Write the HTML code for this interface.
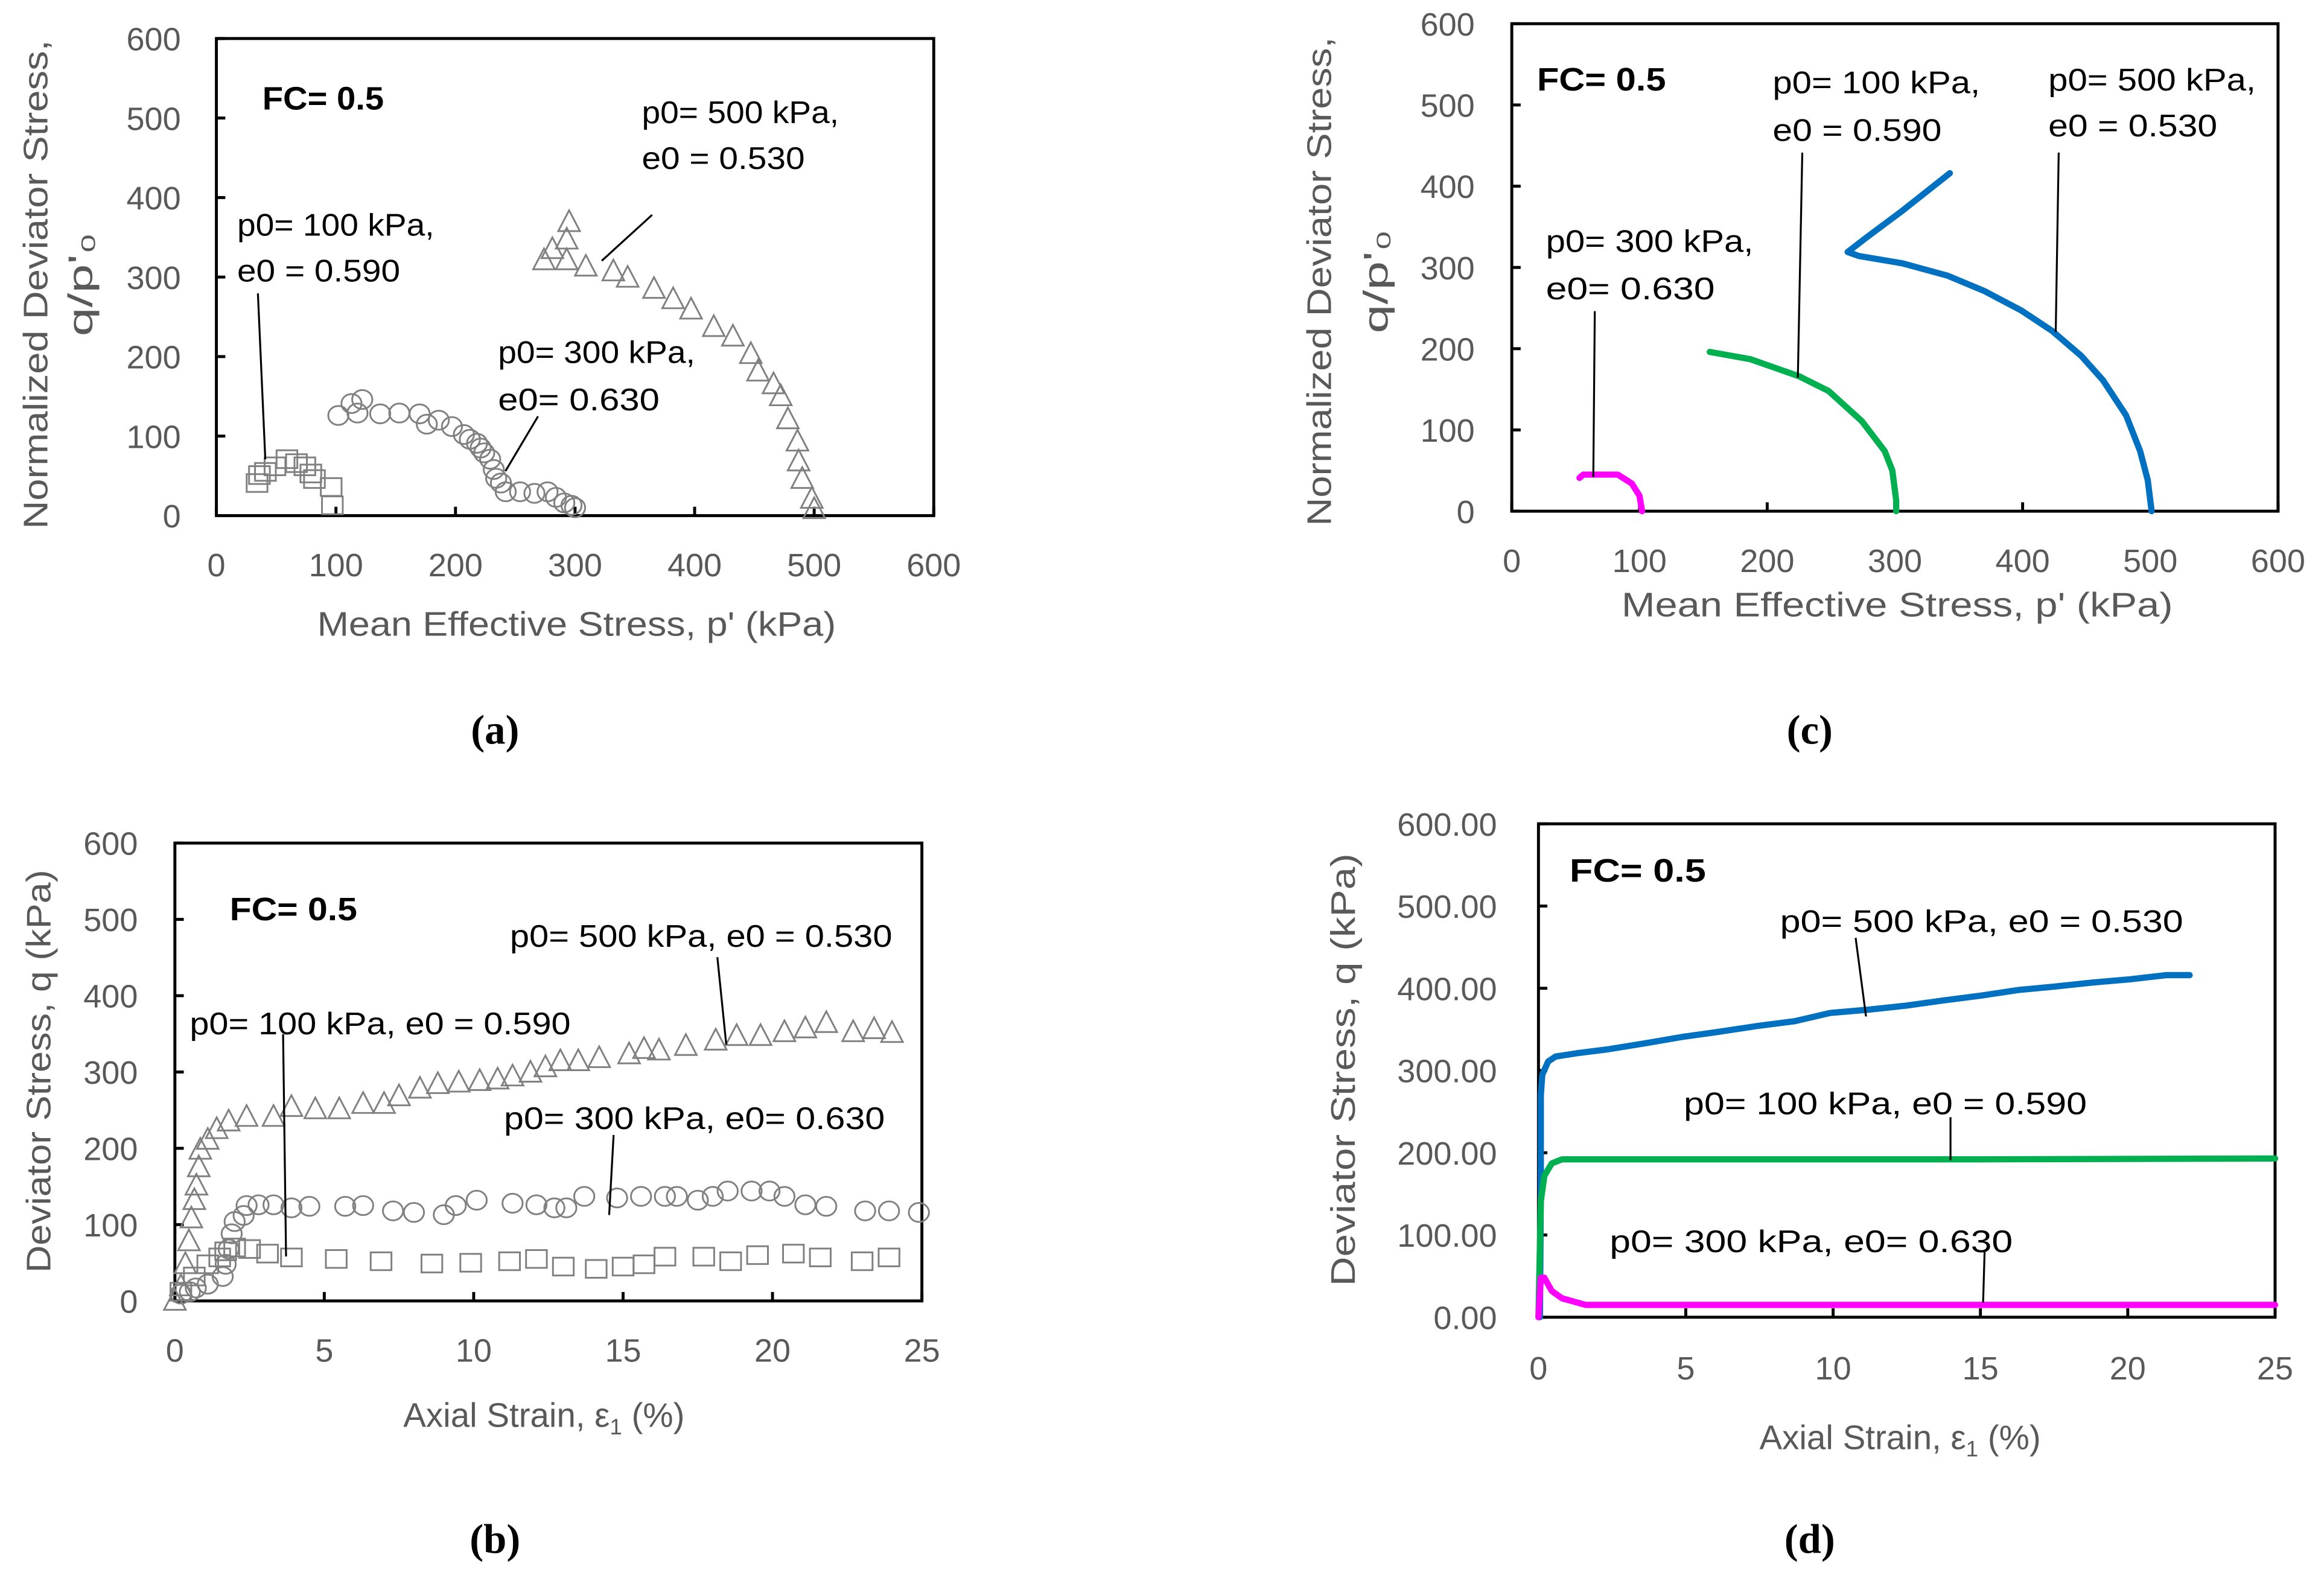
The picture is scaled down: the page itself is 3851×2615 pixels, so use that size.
<!DOCTYPE html>
<html><head><meta charset="utf-8">
<style>
html,body{margin:0;padding:0;background:#fff;}
svg{display:block;}
text{font-family:"Liberation Sans",sans-serif;}
.tick{fill:#595959;font-size:22px;}
.ttl{fill:#595959;font-size:23px;}
.ann{fill:#000;font-size:21px;}
.fc{fill:#000;font-size:22px;font-weight:bold;}
.cap{fill:#000;font-size:28px;font-weight:bold;font-family:"Liberation Serif",serif;}
</style></head>
<body>
<svg id="fig" width="3851" height="2615" viewBox="0 0 1568 1065" preserveAspectRatio="none" xmlns="http://www.w3.org/2000/svg"></svg>
<script>
// ---- Panel (a) data: p' (kPa), q/p'0 ----
const aTriP=[274,281,293,295,293,309,332,344,366,382,397,416,432,447,453,466,472,478,486,487,490,498,500];
const aTriQ=[321,335,347,369,321,313,307,299,285,272,259,237,225,203,181,165,150,121,93,68,46,21,8];
const aCirP=[102,113,118,122,137,153,170,176,186,197,207,212,218,221,224,229,232,234,238,242,254,266,277,284,291,297,300];
const aCirQ=[126,141,129,146,128,129,128,115,120,112,102,96,91,85,79,71,58,47,41,30,30,28,30,23,16,13,10];
const aSqP=[34,36,41,49,59,67,74,79,82,96,97];
const aSqQ=[41,51,55,62,71,66,62,53,46,36,13];
const aXTicks=[0,100,200,300,400,500,600];
const aYTicks=[0,100,200,300,400,500,600];
// ---- Panel (b) data: strain (%), q (kPa) ----
const bTriE=[0,0.2,0.35,0.47,0.55,0.65,0.72,0.8,0.85,1.1,1.4,1.8,2.4,3.3,3.9,4.7,5.5,6.3,7.0,7.5,8.2,8.8,9.5,10.2,10.8,11.3,11.9,12.4,12.9,13.5,14.2,15.2,15.7,16.2,17.1,18.1,18.8,19.6,20.4,21.1,21.8,22.7,23.4,24.0];
const bTriQ=[0,19,48,78,108,132,151,175,198,211,225,235,241,241,254,251,251,258,258,268,278,284,286,288,290,294,299,306,314,314,318,323,330,328,334,341,347,347,352,357,364,352,356,351];
const bCirE=[0.2,0.5,0.7,1.1,1.6,1.7,1.8,1.9,2.0,2.3,2.4,2.8,3.3,3.9,4.5,5.7,6.3,7.3,8.0,9.0,9.4,10.1,11.3,12.1,12.7,13.1,13.7,14.8,15.6,16.4,16.8,17.5,18.0,18.5,19.3,19.9,20.4,21.1,21.8,23.1,23.9,24.9];
const bCirQ=[9,12,17,22,32,48,68,88,104,112,125,126,126,122,124,124,125,118,116,113,125,132,128,126,122,122,137,135,137,137,137,132,137,144,144,144,137,126,124,118,118,116];
const bSqE=[0.2,0.65,1.1,1.5,1.7,2.0,2.5,3.1,3.9,5.4,6.9,8.6,9.9,11.2,12.1,13.0,14.1,15.0,15.7,16.4,17.7,18.6,19.5,20.7,21.6,23.0,23.9];
const bSqQ=[12,32,48,57,65,70,68,62,57,55,52,49,50,52,55,45,42,45,48,58,58,52,60,62,57,52,57];
const bXTicks=[0,5,10,15,20,25];
const bYTicks=[0,100,200,300,400,500,600];
// ---- Panel (c) data ----
const cGreenP=[155,187,225,248,274,292,298,301,301];
const cGreenQ=[196,187,166,148,111,74,50,13,0];
const cBlueP=[343,306,277,263,272,306,341,370,399,423,446,463,481,492,498,501];
const cBlueQ=[416,370,336,319,314,305,290,271,247,222,191,161,118,74,38,0];
const cMagP=[53,56,83,94,100,102];
const cMagQ=[41,45,45,34,19,0];
// ---- Panel (d) data ----
const dBlueE=[0.05,0.08,0.08,0.13,0.33,0.58,1.3,2.4,3.6,4.9,6.1,7.4,8.7,9.9,11.2,12.5,13.7,15.0,16.3,17.5,18.8,20.1,21.3,22.1];
const dBlueQ=[0,150,270,295,311,317,321,326,333,341,347,354,360,370,374,379,385,391,398,402,407,411,416,416];
const dGreenE=[0,0.08,0.2,0.45,0.8,4.9,15,25];
const dGreenQ=[0,141,172,187,192,192,192,193];
const dMagE=[0,0.08,0.2,0.45,0.8,1.3,1.6,25];
const dMagQ=[0,48,48,32,23,18,15,15];
const dYTicks=["0.00","100.00","200.00","300.00","400.00","500.00","600.00"];

const NS="http://www.w3.org/2000/svg";
const svg=document.getElementById('fig');
function mk(tag,attrs,parent){const e=document.createElementNS(NS,tag);for(const k in attrs)e.setAttribute(k,attrs[k]);(parent||svg).appendChild(e);return e;}
function txt(s,x,y,cls,anchor,parent){const t=mk('text',{x:x,y:y,class:cls,'text-anchor':anchor||'start'},parent);t.textContent=s;return t;}
function axis(x0,x1,y0,y1,xmin,xmax,ymin,ymax){return {x:v=>x0+(v-xmin)/(xmax-xmin)*(x1-x0),y:v=>y0-(v-ymin)/(ymax-ymin)*(y0-y1)};}

function frame(g,x0,x1,y0,y1,ax,xt,yt,ylabels,ylx,xly){
  const r=mk('rect',{x:x0,y:y1,width:x1-x0,height:y0-y1,fill:'none',stroke:'#000','stroke-width':2},g);
  
  
  yt.forEach((v,i)=>{
    const yy=ax.y(v);
    const l=mk('line',{x1:x0,x2:x0+6,y1:yy,y2:yy,stroke:'#000','stroke-width':2},g);
    
    
    const t=txt(ylabels?ylabels[i]:String(v),ylx,yy+8,'tick','end',g);
    
    
  });
  xt.forEach(v=>{
    const xx=ax.x(v);
    const l=mk('line',{x1:xx,x2:xx,y1:y0,y2:y0-6,stroke:'#000','stroke-width':2},g);
    
    
    const t=txt(String(v),xx,xly,'tick','middle',g);
    
    
  });
}
function tri(g,ax,X,Y){X.forEach((v,i)=>{const cx=ax.x(v),cy=ax.y(Y[i]);
  const p=mk('polygon',{points:`${cx-7.3},${cy+6} ${cx+7.3},${cy+6} ${cx},${cy-8}`,fill:'none',stroke:'#808080','stroke-width':1.2},g);
  
  });}
function cir(g,ax,X,Y){X.forEach((v,i)=>{
  const c=mk('ellipse',{cx:ax.x(v),cy:ax.y(Y[i]),rx:6.8,ry:6.4,fill:'none',stroke:'#808080','stroke-width':1.2},g);
  
  });}
function sq(g,ax,X,Y){X.forEach((v,i)=>{
  const r=mk('rect',{x:ax.x(v)-7,y:ax.y(Y[i])-6,width:14,height:12,fill:'none',stroke:'#808080','stroke-width':1.2},g);
  
  });}
function line(g,ax,X,Y,col,name){
  const p=mk('polyline',{points:X.map((v,i)=>ax.x(v)+','+ax.y(Y[i])).join(' '),fill:'none',stroke:col,'stroke-width':4.2,'stroke-linejoin':'round','stroke-linecap':'round'},g);
  
  }
function lead(g,x1,y1,x2,y2){const l=mk('line',{x1:x1,y1:y1,x2:x2,y2:y2,stroke:'#000','stroke-width':1.3},g);
  
  }
function ann(g,s,x,y,w,cls){const t=txt(s,x,y,cls||'ann','start',g);if(w){t.setAttribute('textLength',w);t.setAttribute('lengthAdjust','spacingAndGlyphs');}
  
  return t;}
function ytitle(g,lines,xs,cy,ws){lines.forEach((s,i)=>{const t=mk('text',{x:0,y:0,class:'ttl','text-anchor':'middle',transform:`translate(${xs[i]},${cy}) rotate(-90)`},g);t.textContent=s;
  if(ws[i]){t.setAttribute('textLength',ws[i]);t.setAttribute('lengthAdjust','spacingAndGlyphs');}
  
  });}

// Panel (a)
const gA=mk('g',{});
const axA=axis(146,630,348,26,0,600,0,600);
frame(gA,146,630,348,26,axA,aXTicks,aYTicks,null,122,389);
sq(gA,axA,aSqP,aSqQ);cir(gA,axA,aCirP,aCirQ);tri(gA,axA,aTriP,aTriQ);
ann(gA,'FC= 0.5',177,74,82,'fc');
ann(gA,'p0= 500 kPa,',433,83,133);ann(gA,'e0 = 0.530',433,114,110);lead(gA,440,145,406,176);
ann(gA,'p0= 100 kPa,',160,159,133);ann(gA,'e0 = 0.590',160,190,110);lead(gA,174,198,179,310);
ann(gA,'p0= 300 kPa,',336,245,133);ann(gA,'e0=  0.630',336,277,109);lead(gA,363,281,341,318);
{const t=txt("Mean Effective Stress, p' (kPa)",389,429,'ttl','middle',gA);t.setAttribute('textLength',350);t.setAttribute('lengthAdjust','spacingAndGlyphs');}
ytitle(gA,['Normalized Deviator Stress,',"q/p'\u2080"],[32,62],192,[330,70]);
{const t=txt('(a)',334,502,'cap','middle',gA);}

// Panel (b)
const gB=mk('g',{});
const axB=axis(118,622,878,569,0,25,0,600);
frame(gB,118,622,878,569,axB,bXTicks,bYTicks,null,93,919);
sq(gB,axB,bSqE,bSqQ);cir(gB,axB,bCirE,bCirQ);tri(gB,axB,bTriE,bTriQ);
ann(gB,'FC= 0.5',155,621,86,'fc');
ann(gB,'p0= 500 kPa, e0 = 0.530',344,639,258);lead(gB,484,646,490,705);
ann(gB,'p0= 100 kPa, e0 = 0.590',128,698,257);lead(gB,191,698,193,848);
ann(gB,'p0= 300 kPa, e0=  0.630',340,762,257);lead(gB,414,766,411,820);
{const t=mk('text',{x:367,y:963,class:'ttl','text-anchor':'middle'},gB);t.innerHTML='Axial Strain, \u03b5<tspan font-size="15" dy="5">1</tspan><tspan dy="-5"> (%)</tspan>';}
ytitle(gB,['Deviator Stress, q (kPa)'],[34],723,[272]);
{const t=txt('(b)',334,1048,'cap','middle',gB);}

// Panel (c)
const gC=mk('g',{});
const axC=axis(1020,1537,345,16,0,600,0,600);
frame(gC,1020,1537,345,16,axC,aXTicks,aYTicks,null,995,386);
line(gC,axC,cMagP,cMagQ,'#FF00FF','magenta-curve-300kpa');
line(gC,axC,cGreenP,cGreenQ,'#00B050','green-curve-100kpa');
line(gC,axC,cBlueP,cBlueQ,'#0070C0','blue-curve-500kpa');
ann(gC,'FC= 0.5',1037,61,87,'fc');
ann(gC,'p0= 100 kPa,',1196,63,140);ann(gC,'e0 = 0.590',1196,95,114);lead(gC,1216,103,1213,255);
ann(gC,'p0= 500 kPa,',1382,61,140);ann(gC,'e0 = 0.530',1382,92,114);lead(gC,1389,103,1387,224);
ann(gC,'p0= 300 kPa,',1043,170,140);ann(gC,'e0=  0.630',1043,202,114);lead(gC,1076,210,1075,322);
{const t=txt("Mean Effective Stress, p' (kPa)",1280,416,'ttl','middle',gC);t.setAttribute('textLength',372);t.setAttribute('lengthAdjust','spacingAndGlyphs');}
ytitle(gC,['Normalized Deviator Stress,',"q/p'\u2080"],[898,936],190,[330,70]);
{const t=txt('(c)',1221,502,'cap','middle',gC);}

// Panel (d)
const gD=mk('g',{});
const axD=axis(1038,1535,889,556,0,25,0,600);
frame(gD,1038,1535,889,556,axD,bXTicks,bYTicks,dYTicks,1010,931);
line(gD,axD,dBlueE,dBlueQ,'#0070C0','blue-curve-500kpa');
line(gD,axD,dGreenE,dGreenQ,'#00B050','green-curve-100kpa');
line(gD,axD,dMagE,dMagQ,'#FF00FF','magenta-curve-300kpa');
ann(gD,'FC= 0.5',1059,595,92,'fc');
ann(gD,'p0= 500 kPa, e0 = 0.530',1201,629,272);lead(gD,1252,633,1259,686);
ann(gD,'p0= 100 kPa, e0 = 0.590',1136,752,272);lead(gD,1316,754,1316,783);
ann(gD,'p0= 300 kPa, e0=  0.630',1086,845,272);lead(gD,1339,845,1338,879);
{const t=mk('text',{x:1282,y:978,class:'ttl','text-anchor':'middle'},gD);t.innerHTML='Axial Strain, \u03b5<tspan font-size="15" dy="5">1</tspan><tspan dy="-5"> (%)</tspan>';}
ytitle(gD,['Deviator Stress, q (kPa)'],[914],722,[292]);
{const t=txt('(d)',1221,1048,'cap','middle',gD);}
</script>
</body></html>
